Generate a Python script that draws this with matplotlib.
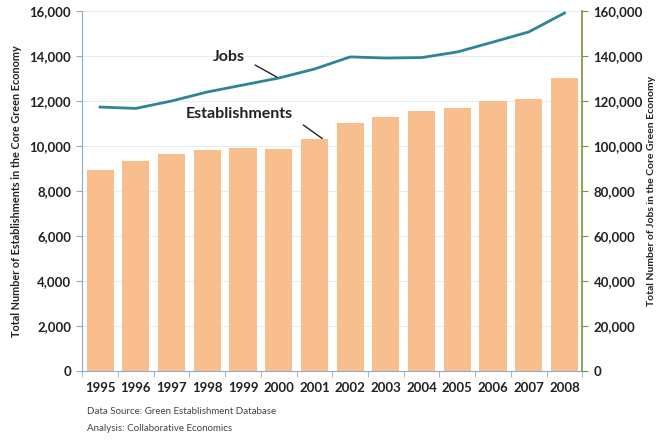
import matplotlib
matplotlib.use("Agg")
import matplotlib.pyplot as plt
import numpy as np

years = ["1995", "1996", "1997", "1998", "1999", "2000", "2001",
         "2002", "2003", "2004", "2005", "2006", "2007", "2008"]
establishments = [8930, 9330, 9640, 9820, 9910, 9870, 10310,
                  11020, 11290, 11560, 11690, 12000, 12090, 13020]
jobs = [117300, 116700, 120000, 124000, 127100, 130200, 134200,
        139600, 139100, 139300, 141800, 146200, 150700, 159100]
left_ticks = [0, 2000, 4000, 6000, 8000, 10000, 12000, 14000, 16000]
right_ticks = [0, 20000, 40000, 60000, 80000, 100000, 120000, 140000, 160000]

plt.rcParams['font.family'] = ['Lato', 'DejaVu Sans']

fig = plt.figure(figsize=(6.58, 4.41), dpi=100)
ax = fig.add_axes([0.125, 0.159, 0.76, 0.816])
x = np.arange(len(years))
ax.bar(x, establishments, width=0.76, color="#F9BE8E", zorder=2)
ax.set_xlim(-0.5, len(years) - 0.5)
ax.set_ylim(0, 16000)
ax.set_yticks(left_ticks)
ax.set_yticklabels([f"{v:,}" for v in left_ticks], fontsize=9.5, fontweight='bold', color="#222222")
ax.set_xticks(x)
ax.set_xticklabels(years, fontsize=9.5, fontweight='bold', color="#222222")
ax.tick_params(axis='x', length=0, pad=8)
ax.set_xticks(np.arange(-0.5, len(years), 1), minor=True)
ax.tick_params(axis='x', which='minor', length=4, color="#8faacc")
ax.tick_params(axis='y', length=4, color="#8faacc", pad=4)
ax.grid(axis='y', color="#e8edf2", linewidth=0.8, zorder=0)
ax.set_axisbelow(True)
for s in ['top', 'right']:
    ax.spines[s].set_visible(False)
ax.spines['left'].set_color("#8faacc")
ax.spines['bottom'].set_color("#8faacc")
ax.set_ylabel("Total Number of Establishments in the Core Green Economy",
              fontsize=7.8, fontweight='bold', color="#222222", labelpad=5)

ax2 = ax.twinx()
ax2.plot(x, jobs, color="#2E8594", linewidth=2, zorder=3)
ax2.set_ylim(0, 160000)
ax2.set_yticks(right_ticks)
ax2.set_yticklabels([f"{v:,}" for v in right_ticks], fontsize=9.5, fontweight='bold', color="#222222")
ax2.tick_params(axis='y', length=4, color="#77933C", pad=4)
for s in ['top', 'left', 'bottom']:
    ax2.spines[s].set_visible(False)
ax2.spines['right'].set_color("#77933C")
ax2.spines['right'].set_linewidth(1.2)
ax2.set_ylabel("Total Number of Jobs in the Core Green Economy",
               fontsize=7.5, fontweight='bold', color="#222222", labelpad=3)

ax2.text(3.6, 139500, "Jobs", fontsize=11.5, fontweight='bold', color="#222222",
         ha='center', va='center')
ax2.annotate("", xy=(4.95, 130600), xytext=(4.34, 136000),
             arrowprops=dict(arrowstyle='-', color='#222222', lw=1, shrinkA=0, shrinkB=0))
ax.text(3.9, 11400, "Establishments", fontsize=11.5, fontweight='bold', color="#222222",
        ha='center', va='center')
ax.annotate("", xy=(6.22, 10330), xytext=(5.69, 10930),
            arrowprops=dict(arrowstyle='-', color='#222222', lw=1, shrinkA=0, shrinkB=0))

fig.text(0.132, 0.062, "Data Source: Green Establishment Database", fontsize=7, color="#444444")
fig.text(0.132, 0.022, "Analysis: Collaborative Economics", fontsize=7, color="#444444")

fig.savefig("out.png", dpi=100)
